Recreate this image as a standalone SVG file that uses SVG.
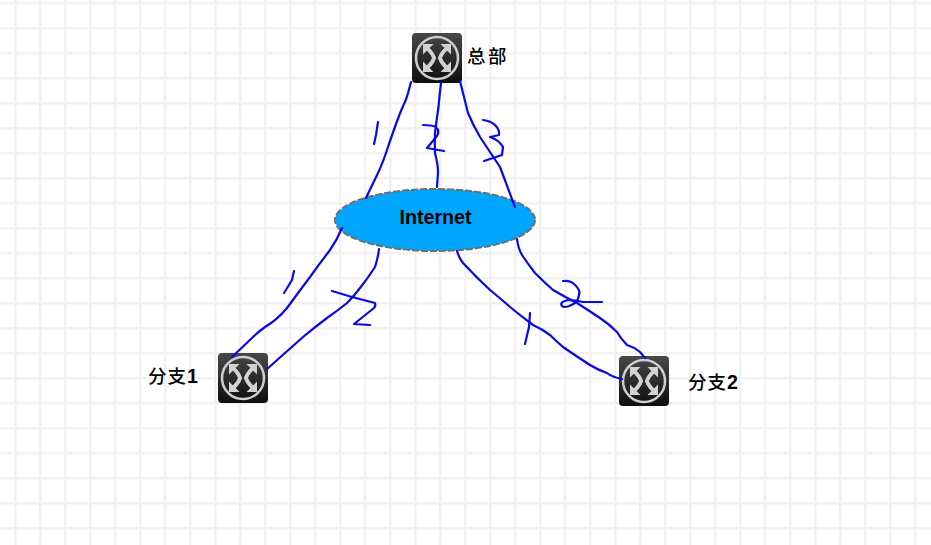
<svg xmlns="http://www.w3.org/2000/svg" width="931" height="545" viewBox="0 0 931 545">
<style>
.ink{fill:none;stroke:#0808e8;stroke-width:2.2;stroke-linecap:round;stroke-linejoin:round}
.lbl{font-family:"Liberation Sans","Noto Sans CJK SC",sans-serif;font-size:19.6px;font-weight:bold;fill:#000}
.cjk{font-family:"Noto Sans CJK SC","Liberation Sans",sans-serif;font-size:18.5px;font-weight:500;fill:#000}
</style>
<defs>
<pattern id="grid" x="0" y="0" width="25" height="25" patternUnits="userSpaceOnUse" patternTransform="translate(14 2)">
<rect width="2.5" height="25" fill="#f2f2f2"/>
<rect width="25" height="2.5" fill="#f2f2f2"/>
</pattern>
<linearGradient id="body" x1="0" y1="0" x2="0" y2="1">
<stop offset="0" stop-color="#484848"/>
<stop offset="1" stop-color="#0e0e0e"/>
</linearGradient>
<g id="arm">
<polygon points="14,-14 14,-3.500 3.500,-14" fill="#d2d2d2"/>
<path d="M9,-9 Q4,-4 3,0 Q4,4 9,9" fill="none" stroke="#d2d2d2" stroke-width="3.600"/>
</g>
<g id="router">
<rect x="0" y="0" width="50" height="50" rx="4" fill="url(#body)"/>
<circle cx="25" cy="25" r="21" fill="none" stroke="#cfcfcf" stroke-width="2.5"/>
<g transform="translate(25 25)">
<use href="#arm"/>
<use href="#arm" transform="scale(-1 1)"/>
<use href="#arm" transform="scale(1 -1)"/>
<use href="#arm" transform="scale(-1 -1)"/>
</g>
</g>
</defs>
<rect width="931" height="545" fill="#fff"/>
<rect width="931" height="545" fill="url(#grid)"/>
<g id="internet">
<ellipse cx="435" cy="220" rx="100" ry="31" fill="#00a6ff" stroke="#6e6e6e" stroke-width="2" stroke-dasharray="7 2"/>
<text class="lbl" x="435.500" y="224" text-anchor="middle">Internet</text>
</g>
<g id="hq">
<use href="#router" x="412" y="33"/>
<text class="cjk" x="467" y="63" letter-spacing="2.500">总部</text>
</g>
<g id="branch1">
<use href="#router" x="218" y="353"/>
<text class="cjk" x="148" y="383" letter-spacing="1">分支<tspan class="lbl">1</tspan></text>
</g>
<g id="branch2">
<use href="#router" x="619" y="356"/>
<text class="cjk" x="688" y="389" letter-spacing="1">分支<tspan class="lbl">2</tspan></text>
</g>
<g id="connectors">
<path class="ink" d="M411,82 Q407,98 404.500,103 Q402,108 397.500,120 Q393,132 387.500,148.500 Q382,165 377.500,174 L366,198"/>
<path class="ink" d="M441,83 Q439.500,95 438.500,107 Q436.500,120 435,133 Q434.500,143 435,153 Q438,165 438,172 L437,187"/>
<path class="ink" d="M460,81 Q464,97 468,113 Q473,125 480,137 Q490,152 500,167 L515,207"/>
<path class="ink" d="M342,228 Q337,240 330,250 Q320,263 310,277 Q298,293 287,308 Q277,320 265,327 Q258,332 252,338 L232,357"/>
<path class="ink" d="M379,249 Q378,258 375,267 Q368,278 360,288 Q354,296 347,303 Q337,311 327,318 Q315,327 303,337 L267,369"/>
<path class="ink" d="M457,251 Q459,258 463,263 Q476,277 490,290 Q500,298 510,307 Q521,316 533,325 Q542,329 550,335 Q556,341 563,347 Q576,356 590,365 Q598,370 607,373 Q612,377 622,379"/>
<path class="ink" d="M517,239 Q518,248 522,255 Q528,264 535,273 Q544,282 553,290 Q565,297 577,303 Q588,310 600,318 Q609,324 617,332 Q621,339 627,345 Q634,347 640,352 L645,358"/>
</g>
<g id="handwritten-marks">
<path class="ink" d="M378,122 L376,135 L374,144"/>
<path class="ink" d="M423,125 Q432,125 436,127 Q440,131 437,136 L427,148 L444,151"/>
<path class="ink" d="M483,120 Q491,121 495,125 Q500,130 499,135 L490,137 Q499,140 503,147 L502,155 L484,161"/>
<path class="ink" d="M294,271 L292,280 L284,293"/>
<path class="ink" d="M332,291 L352,297 L375,303 Q376,306 374,308 L354,324 L370,325"/>
<path class="ink" d="M530,313 L529,327 L525,344"/>
<path class="ink" d="M563,281 Q570,280 574,284 Q581,290 579,295 Q578,301 575,303 Q565,309 562,306 Q559,302 568,300 Q575,300 583,302 L602,302"/>
</g>
</svg>
